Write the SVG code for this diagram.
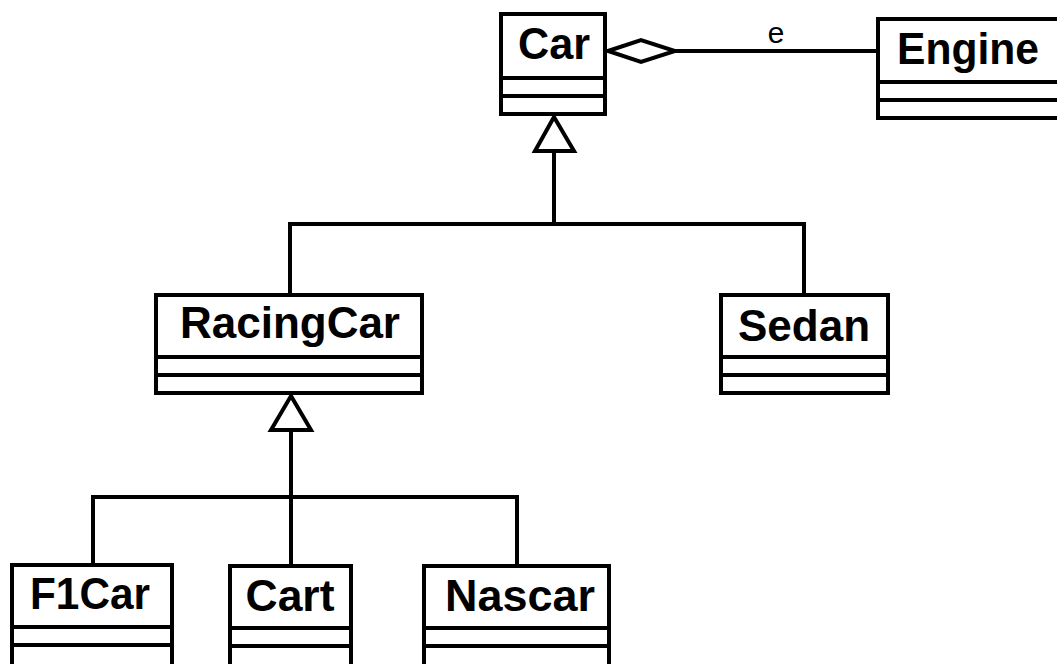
<svg xmlns="http://www.w3.org/2000/svg" width="1057" height="664" viewBox="0 0 1057 664">
  <style>
    .box { fill: #ffffff; stroke: #000000; stroke-width: 4; }
    .div { stroke: #000000; stroke-width: 4; fill: none; }
    .name { font-family: "Liberation Sans", Arial, sans-serif; font-weight: bold; font-size: 44px; fill: #000000; text-anchor: middle; }
    .edge { stroke: #000000; stroke-width: 4; fill: none; }
    .head { stroke: #000000; stroke-width: 4; fill: #ffffff; stroke-linejoin: miter; }
    .role { font-family: "Liberation Mono", "Courier New", monospace; font-size: 30px; fill: #000000; text-anchor: middle; }
  </style>

  <!-- connectors -->
  <g id="connectors">
    <!-- Car <>— Engine (aggregation) -->
    <line class="edge" x1="675" y1="51" x2="878" y2="51"/>
    <polygon class="head" points="608,51 641,40 675,51 641,62"/>
    <text class="role" x="776" y="43">e</text>

    <!-- RacingCar, Sedan -> Car (generalization) -->
    <polyline class="edge" points="290,295 290,224 804,224 804,295"/>
    <line class="edge" x1="554" y1="151" x2="554" y2="224"/>
    <polygon class="head" points="554,117 535,151 574,151"/>

    <!-- F1Car, Cart, Nascar -> RacingCar (generalization) -->
    <polyline class="edge" points="93,565 93,497 517,497 517,566"/>
    <line class="edge" x1="291" y1="430" x2="291" y2="566"/>
    <polygon class="head" points="291,396 271,430 311,430"/>
  </g>

  <!-- classes -->
  <g id="Car">
    <rect class="box" x="501" y="14" width="104" height="100"/>
    <line class="div" x1="501" y1="78" x2="605" y2="78"/>
    <line class="div" x1="501" y1="96" x2="605" y2="96"/>
    <text class="name" x="554" y="59" textLength="72" lengthAdjust="spacingAndGlyphs">Car</text>
  </g>

  <g id="Engine">
    <rect class="box" x="878" y="19" width="192" height="99"/>
    <line class="div" x1="878" y1="82" x2="1070" y2="82"/>
    <line class="div" x1="878" y1="100" x2="1070" y2="100"/>
    <text class="name" x="968" y="64" textLength="142" lengthAdjust="spacingAndGlyphs">Engine</text>
  </g>

  <g id="RacingCar">
    <rect class="box" x="156" y="295" width="266" height="98"/>
    <line class="div" x1="156" y1="357" x2="422" y2="357"/>
    <line class="div" x1="156" y1="375" x2="422" y2="375"/>
    <text class="name" x="290" y="338" textLength="220" lengthAdjust="spacingAndGlyphs">RacingCar</text>
  </g>

  <g id="Sedan">
    <rect class="box" x="721" y="295" width="167" height="98"/>
    <line class="div" x1="721" y1="357" x2="888" y2="357"/>
    <line class="div" x1="721" y1="375" x2="888" y2="375"/>
    <text class="name" x="804" y="341" textLength="132" lengthAdjust="spacingAndGlyphs">Sedan</text>
  </g>

  <g id="F1Car">
    <rect class="box" x="12" y="565" width="160" height="105"/>
    <line class="div" x1="12" y1="627" x2="172" y2="627"/>
    <line class="div" x1="12" y1="645" x2="172" y2="645"/>
    <text class="name" x="90" y="609" textLength="120" lengthAdjust="spacingAndGlyphs">F1Car</text>
  </g>

  <g id="Cart">
    <rect class="box" x="230" y="566" width="121" height="105"/>
    <line class="div" x1="230" y1="628" x2="351" y2="628"/>
    <line class="div" x1="230" y1="646" x2="351" y2="646"/>
    <text class="name" x="290" y="611" textLength="89" lengthAdjust="spacingAndGlyphs">Cart</text>
  </g>

  <g id="Nascar">
    <rect class="box" x="424" y="566" width="185" height="105"/>
    <line class="div" x1="424" y1="628" x2="609" y2="628"/>
    <line class="div" x1="424" y1="646" x2="609" y2="646"/>
    <text class="name" x="520" y="611" textLength="150" lengthAdjust="spacingAndGlyphs">Nascar</text>
  </g>
</svg>
